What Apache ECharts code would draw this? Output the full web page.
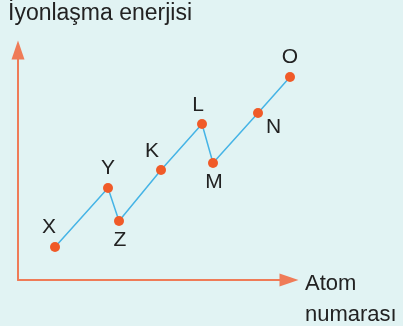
<!DOCTYPE html>
<html>
<head>
<meta charset="utf-8">
<script src="https://cdn.jsdelivr.net/npm/echarts@6/dist/echarts.min.js"></script>
<style>
  html, body { margin: 0; padding: 0; background: #e1f3f3; }
  #chart { width: 403px; height: 326px; }
</style>
</head>
<body>
<div id="chart"></div>
<script>
// elements in order of atomic number
var elements = ['X', 'Y', 'Z', 'K', 'L', 'M', 'N', 'O'];
// atomic number position (arbitrary units) and ionization energy (arbitrary units)
var atomNo = [3.7, 9.0, 10.1, 14.3, 18.4, 19.5, 24.0, 27.2];
var energy = [3.3, 9.2, 5.9, 11.0, 15.6, 11.7, 16.7, 20.3];

// where each letter goes relative to its point
var labelPos = {
  X: ['top', [-6, 1]],
  Y: ['top', [0, 1]],
  Z: ['bottom', [1, -1]],
  K: ['top', [-9, 2]],
  L: ['top', [-4, 2]],
  M: ['bottom', [1, -1]],
  N: ['right', [-2, 14]],
  O: ['top', [0, 1]]
};

var axisColor = '#ef7b57';
var textFont = '22px "Liberation Sans", Arial, sans-serif';

var points = elements.map(function (el, i) {
  return {
    name: el,
    value: [atomNo[i], energy[i]],
    label: { position: labelPos[el][0], offset: labelPos[el][1] }
  };
});

var chart = echarts.init(document.getElementById('chart'));

chart.setOption({
  backgroundColor: '#e1f3f3',
  animation: false,
  grid: { left: 18, right: 114, top: 50, bottom: 46 },
  xAxis: {
    type: 'value',
    min: 0,
    max: 27.1,
    axisLine: {
      show: true,
      symbol: ['none', 'triangle'],
      symbolSize: [13, 19],
      lineStyle: { color: axisColor, width: 2 }
    },
    axisTick: { show: false },
    axisLabel: { show: false },
    splitLine: { show: false }
  },
  yAxis: {
    type: 'value',
    min: 0,
    max: 23,
    axisLine: {
      show: true,
      symbol: ['none', 'triangle'],
      symbolSize: [13, 19],
      lineStyle: { color: axisColor, width: 2 }
    },
    axisTick: { show: false },
    axisLabel: { show: false },
    splitLine: { show: false }
  },
  series: [{
    type: 'line',
    clip: false,
    data: points,
    symbol: 'circle',
    symbolSize: 10,
    itemStyle: { color: '#f05a28' },
    lineStyle: { color: '#45b4e6', width: 1.5 },
    label: {
      show: true,
      formatter: '{b}',
      fontFamily: 'Liberation Sans',
      fontSize: 21,
      color: '#222'
    }
  }],
  graphic: [
    {
      type: 'text', left: 8, top: 2,
      style: { text: 'İyonlaşma enerjisi', font: '23px "Liberation Sans", Arial, sans-serif', fill: '#222' }
    },
    {
      type: 'text', left: 305, top: 273,
      style: { text: 'Atom', font: textFont, fill: '#222' }
    },
    {
      type: 'text', left: 305, top: 304,
      style: { text: 'numarası', font: textFont, fill: '#222' }
    }
  ]
});
</script>
</body>
</html>
